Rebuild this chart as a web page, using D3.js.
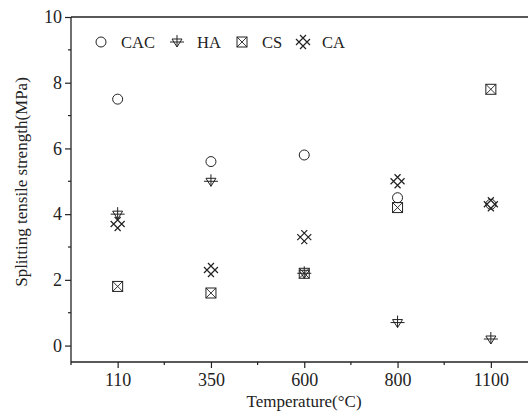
<!DOCTYPE html>
<html>
<head>
<script src="https://cdn.jsdelivr.net/npm/d3@7"></script>
<style>
  body { margin: 0; background: #fff; }
  svg { display: block; font-family: 'Liberation Serif', 'Times New Roman', serif; }
</style>
</head>
<body>
<div id="chart"></div>
<script>
// temperature categories and values (MPa)
var temps = ["110", "350", "600", "800", "1100"];
var cac = [7.5, 5.6, 5.8, 4.5, 4.3];
var ha  = [4.0, 5.0, 2.2, 0.7, 0.2];
var cs  = [1.8, 1.6, 2.2, 4.2, 7.8];
var ca  = [3.7, 2.3, 3.3, 5.0, 4.3];
var yTicks = [0, 2, 4, 6, 8, 10];
var seriesNames = ["CAC", "HA", "CS", "CA"];

var width = 528, height = 412;
var plotLeft = 71, plotTop = 17, plotBottom = 362;

var svg = d3.select("#chart").append("svg")
    .attr("width", width).attr("height", height);

var x = d3.scaleLinear().domain([0.5, 5.5]).range([plotLeft, plotLeft + 5 * 93.3]);
var y = d3.scaleLinear().domain([-0.5, 10]).range([plotBottom, plotTop]);

var ink = "#222";
var serif = "'Liberation Serif', 'Times New Roman', serif";

// symbol drawers, centered at 0,0
function drawCircle(g) {
  g.append("circle").attr("r", 5).attr("fill", "none").attr("stroke", ink).attr("stroke-width", 1);
}
function drawHA(g) {
  g.append("path").attr("d", "M-5,-3 L5,-3 L0,5 Z").attr("fill", "none").attr("stroke", ink).attr("stroke-width", 1);
  g.append("path").attr("d", "M0,-7 L0,5 M-7,0 L7,0").attr("stroke", ink).attr("stroke-width", 1);
}
function drawCS(g) {
  g.append("rect").attr("x", -5).attr("y", -5).attr("width", 10).attr("height", 10)
    .attr("fill", "none").attr("stroke", ink).attr("stroke-width", 1);
  g.append("path").attr("d", "M-5,-5 L5,5 M5,-5 L-5,5").attr("stroke", ink).attr("stroke-width", 0.9);
}
function drawCA(g) {
  // diamond lattice: two "\" and two "/" strokes
  g.append("path")
    .attr("d", "M-7,-3 L3,7 M-3,-7 L7,3 M7,-3 L-3,7 M3,-7 L-7,3")
    .attr("fill", "none").attr("stroke", ink).attr("stroke-width", 1.2);
}
var drawers = [drawCircle, drawHA, drawCS, drawCA];
var series = [cac, ha, cs, ca];

// frame: top line, left axis, bottom axis
svg.append("line").attr("x1", plotLeft).attr("x2", width).attr("y1", plotTop).attr("y2", plotTop)
  .attr("stroke", ink).attr("stroke-width", 1.3);

var yAxis = d3.axisLeft(y).tickValues(yTicks).tickSize(6).tickPadding(3).tickFormat(d3.format("d"));
var gy = svg.append("g").attr("transform", "translate(" + plotLeft + ",0)").call(yAxis);
gy.select(".domain").remove();
gy.append("line").attr("x1", 0).attr("x2", 0).attr("y1", plotTop).attr("y2", plotBottom + 3)
  .attr("stroke", ink).attr("stroke-width", 1.3);
// minor y ticks
gy.selectAll(".minor").data([1, 3, 5, 7, 9]).enter().append("line")
  .attr("x1", -3).attr("x2", 0).attr("y1", function(d) { return y(d); }).attr("y2", function(d) { return y(d); })
  .attr("stroke", ink).attr("stroke-width", 1.2);
gy.selectAll(".tick line").attr("stroke", ink).attr("stroke-width", 1.2);
gy.selectAll(".tick text").attr("font-size", 18).attr("fill", ink).style("font-family", serif);

var xAxis = d3.axisBottom(x).tickValues([1, 2, 3, 4, 5]).tickSize(6).tickPadding(5)
  .tickFormat(function(d) { return temps[d - 1]; });
var gx = svg.append("g").attr("transform", "translate(0," + plotBottom + ")").call(xAxis);
gx.select(".domain").remove();
gx.append("line").attr("x1", plotLeft).attr("x2", width).attr("y1", 0).attr("y2", 0)
  .attr("stroke", ink).attr("stroke-width", 1.3);
gx.selectAll(".minor").data([1.5, 2.5, 3.5, 4.5]).enter().append("line")
  .attr("y1", 0).attr("y2", 3).attr("x1", function(d) { return x(d); }).attr("x2", function(d) { return x(d); })
  .attr("stroke", ink).attr("stroke-width", 1.2);
gx.selectAll(".tick line").attr("stroke", ink).attr("stroke-width", 1.2);
gx.selectAll(".tick text").attr("font-size", 18).attr("fill", ink).style("font-family", serif);

// axis titles
svg.append("text").attr("x", 304).attr("y", 407).attr("text-anchor", "middle")
  .attr("font-size", 17).attr("fill", ink).text("Temperature(\u00b0C)");
svg.append("text").attr("transform", "translate(27,182) rotate(-90)").attr("text-anchor", "middle")
  .attr("font-size", 17).attr("fill", ink).text("Splitting tensile strength(MPa)");

// points
series.forEach(function(vals, si) {
  vals.forEach(function(v, i) {
    var g = svg.append("g").attr("transform", "translate(" + x(i + 1) + "," + y(v) + ")");
    drawers[si](g);
  });
});

// legend
var legX = [101, 177, 242, 303];
var legTextX = [121, 197, 262, 322];
seriesNames.forEach(function(name, i) {
  var g = svg.append("g").attr("transform", "translate(" + legX[i] + ",42)");
  drawers[i](g);
  svg.append("text").attr("x", legTextX[i]).attr("y", 48).attr("font-size", 16.5).attr("fill", ink).text(name);
});
</script>
</body>
</html>
